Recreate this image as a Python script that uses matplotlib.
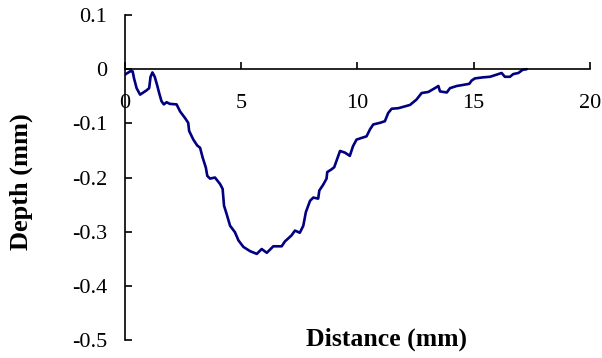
import matplotlib
matplotlib.use("Agg")
import matplotlib.pyplot as plt

# profile
distance = [0, 0.22, 0.33, 0.39, 0.5, 0.65, 0.79, 0.93, 1.04, 1.1, 1.18, 1.28,
            1.38, 1.47, 1.57, 1.67, 1.79, 1.93, 2.22, 2.37, 2.58, 2.72, 2.76,
            2.94, 3.11, 3.23, 3.34, 3.48, 3.54, 3.66, 3.87, 4.09, 4.2, 4.26,
            4.37, 4.52, 4.73, 4.88, 5.09, 5.38, 5.67, 5.88, 6.1, 6.38, 6.74,
            6.88, 7.16, 7.31, 7.52, 7.67, 7.78, 7.96, 8.1, 8.31, 8.36, 8.53,
            8.67, 8.7, 8.88, 9.0, 9.1, 9.25, 9.46, 9.67, 9.81, 9.96, 10.17,
            10.39, 10.54, 10.68, 10.97, 11.18, 11.32, 11.47, 11.76, 12.26,
            12.54, 12.76, 13.05, 13.33, 13.48, 13.55, 13.84, 13.98, 14.27,
            14.55, 14.81, 14.91, 15.05, 15.41, 15.7, 15.99, 16.2, 16.34,
            16.56, 16.7, 16.92, 17.11, 17.28]
depth = [-0.010, -0.004, -0.004, -0.017, -0.035, -0.047, -0.043, -0.039,
         -0.035, -0.014, -0.006, -0.014, -0.029, -0.044, -0.059, -0.065,
         -0.061, -0.064, -0.065, -0.078, -0.090, -0.099, -0.114, -0.130,
         -0.141, -0.145, -0.163, -0.182, -0.197, -0.202, -0.200, -0.212,
         -0.221, -0.252, -0.267, -0.289, -0.301, -0.316, -0.328, -0.336,
         -0.341, -0.332, -0.339, -0.327, -0.327, -0.318, -0.307, -0.298,
         -0.302, -0.289, -0.264, -0.243, -0.237, -0.239, -0.224, -0.213,
         -0.202, -0.190, -0.185, -0.181, -0.169, -0.151, -0.154, -0.160,
         -0.142, -0.130, -0.127, -0.124, -0.111, -0.102, -0.099, -0.096,
         -0.081, -0.073, -0.072, -0.066, -0.056, -0.044, -0.042, -0.035,
         -0.031, -0.041, -0.043, -0.035, -0.031, -0.029, -0.027, -0.021,
         -0.017, -0.015, -0.014, -0.010, -0.007, -0.014, -0.014, -0.009,
         -0.007, -0.001, 0.0]

xticks = [0, 5, 10, 15, 20]
yticks = [0.1, 0, -0.1, -0.2, -0.3, -0.4, -0.5]
ylabels = ["0.1", "0", "-0.1", "-0.2", "-0.3", "-0.4", "-0.5"]

plt.rcParams['font.family'] = ['Liberation Serif', 'DejaVu Serif']

fig = plt.figure(figsize=(6.02, 3.58), dpi=100)
ax = fig.add_axes([0.2076, 0.0503, 0.7724, 0.9077])
ax.plot(distance, depth, '-', color='#000080', linewidth=1.9,
        solid_joinstyle='round', solid_capstyle='round')

ax.set_xlim(0, 20)
ax.set_ylim(-0.5, 0.1)
ax.spines['top'].set_visible(False)
ax.spines['right'].set_visible(False)
ax.spines['bottom'].set_position(('data', 0))
for s in ('left', 'bottom'):
    ax.spines[s].set_linewidth(1.2)

ax.set_xticks(xticks)
ax.set_xticklabels([str(t) for t in xticks])
ax.set_yticks(yticks)
ax.set_yticklabels(ylabels)
ax.tick_params(axis='x', direction='in', length=5, width=1.2, pad=18, labelsize=16)
ax.tick_params(axis='y', direction='in', length=5, width=1.2, pad=13, labelsize=16)

fig.text(0.642, 0.053, "Distance (mm)", fontsize=18.5, fontweight='bold',
         ha='center', va='center')
fig.text(0.035, 0.494, "Depth (mm)", fontsize=19, fontweight='bold',
         ha='center', va='center', rotation=90)

fig.savefig("out.png", dpi=100)
